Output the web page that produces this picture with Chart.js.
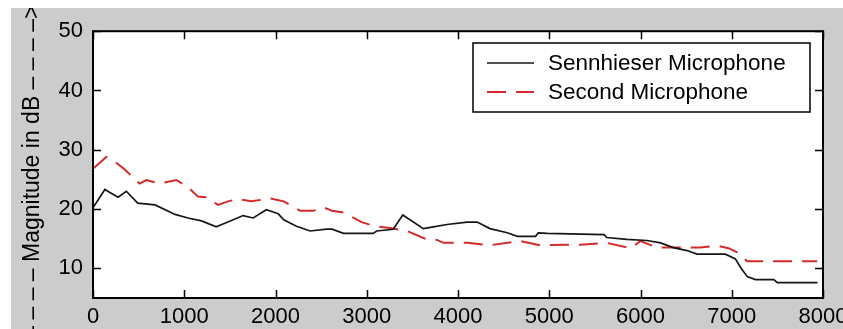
<!DOCTYPE html>
<html>
<head>
<meta charset="utf-8">
<script src="https://cdn.jsdelivr.net/npm/chart.js@4"></script>
<style>
	html, body { margin: 0; padding: 0; background: #fff; }
	#wrap { position: absolute; left: 11px; top: 8px; width: 832px; height: 321px; background: #cccccc; }
	canvas { display: block; }
</style>
</head>
<body>
<div id="wrap"><canvas id="magChart" width="832" height="321"></canvas></div>
<script>
const xTicks = [0, 1000, 2000, 3000, 4000, 5000, 6000, 7000, 8000];
const yTicks = [10, 20, 30, 40, 50];

const sennFreq = [0, 130, 195, 275, 365, 490, 680, 900, 1040, 1190, 1350, 1445, 1645, 1755, 1900, 2030, 2090, 2230, 2380, 2560, 2620, 2745, 3070, 3110, 3290, 3395, 3620, 3730, 3880, 4100, 4210, 4350, 4540, 4650, 4850, 4880, 4980, 5600, 5630, 5850, 6070, 6220, 6360, 6510, 6620, 6930, 7040, 7095, 7170, 7260, 7460, 7500, 7940];
const sennMag = [20.2, 23.3, 22.7, 22.0, 23.0, 21.0, 20.7, 19.1, 18.5, 18.0, 17.0, 17.6, 18.9, 18.5, 19.9, 19.2, 18.2, 17.1, 16.3, 16.6, 16.6, 15.9, 15.9, 16.3, 16.6, 19.0, 16.7, 17.0, 17.4, 17.8, 17.8, 16.7, 16.0, 15.4, 15.4, 16.0, 15.9, 15.7, 15.2, 14.9, 14.7, 14.3, 13.5, 13.0, 12.4, 12.4, 11.6, 10.2, 8.6, 8.1, 8.1, 7.6, 7.6];

const secondFreq = [0, 145, 240, 345, 510, 585, 730, 915, 1040, 1150, 1245, 1370, 1480, 1590, 1735, 1940, 2090, 2270, 2415, 2525, 2620, 2745, 2945, 3090, 3255, 3440, 3640, 3770, 3840, 4100, 4350, 4680, 4900, 5340, 5630, 5890, 6000, 6180, 6360, 6655, 6840, 6965, 7060, 7170, 7935];
const secondMag = [26.8, 28.8, 28.0, 26.7, 24.3, 24.9, 24.3, 24.9, 23.7, 22.1, 22.0, 20.7, 21.3, 21.7, 21.3, 21.8, 21.3, 19.7, 19.7, 20.3, 19.7, 19.4, 17.8, 17.1, 16.8, 16.3, 15.0, 14.8, 14.3, 14.3, 13.9, 14.6, 13.9, 14.0, 14.3, 13.4, 14.6, 13.5, 13.5, 13.5, 13.8, 13.4, 12.7, 11.2, 11.2];

const seriesNames = ["Sennhieser Microphone", "Second Microphone"];
const yTitle = "Magnitude in dB";

const FONT = "Liberation Sans, Arial, sans-serif";

const toPoints = (xs, ys) => xs.map((x, i) => ({ x: x, y: ys[i] }));

// white plot box, MATLAB style inward ticks on all four sides
const boxPlugin = {
	id: "box",
	beforeDatasetsDraw(chart) {
		const { ctx, chartArea: a } = chart;
		ctx.save();
		ctx.fillStyle = "#fff";
		ctx.fillRect(a.left, a.top, a.right - a.left, a.bottom - a.top);
		ctx.restore();
	},
	afterDatasetsDraw(chart) {
		const { ctx, chartArea: a, scales } = chart;
		const len = 8;
		ctx.save();
		ctx.strokeStyle = "#000";
		ctx.lineWidth = 2;
		ctx.strokeRect(a.left, a.top, a.right - a.left, a.bottom - a.top);
		ctx.lineWidth = 1.5;
		ctx.beginPath();
		scales.x.ticks.forEach(t => {
			const px = Math.round(scales.x.getPixelForValue(t.value)) + 0.5;
			ctx.moveTo(px, a.bottom); ctx.lineTo(px, a.bottom - len);
			ctx.moveTo(px, a.top); ctx.lineTo(px, a.top + len);
		});
		scales.y.ticks.forEach(t => {
			const py = Math.round(scales.y.getPixelForValue(t.value)) + 0.5;
			ctx.moveTo(a.left, py); ctx.lineTo(a.left + len, py);
			ctx.moveTo(a.right, py); ctx.lineTo(a.right - len, py);
		});
		ctx.stroke();
		ctx.restore();
	}
};

// boxed legend in the top right corner
const legendBox = {
	id: "legendBox",
	afterDraw(chart) {
		const { ctx } = chart;
		const x0 = 462, y0 = 35, w = 337, h = 69;
		ctx.save();
		ctx.fillStyle = "#fff";
		ctx.fillRect(x0, y0, w, h);
		ctx.strokeStyle = "#000";
		ctx.lineWidth = 1.5;
		ctx.strokeRect(x0, y0, w, h);
		ctx.font = "22.5px " + FONT;
		ctx.textBaseline = "alphabetic";
		chart.data.datasets.forEach((ds, i) => {
			const ly = 55 + i * 29;
			ctx.strokeStyle = ds.borderColor;
			ctx.lineWidth = ds.borderWidth;
			ctx.setLineDash(ds.borderDash || []);
			ctx.beginPath();
			ctx.moveTo(476, ly);
			ctx.lineTo(523, ly);
			ctx.stroke();
			ctx.setLineDash([]);
			ctx.fillStyle = "#000";
			ctx.fillText(ds.label, 537, ly + 7);
		});
		ctx.restore();
	}
};

// rotated axis title with the dashed arrow around it
const yTitlePlugin = {
	id: "yTitle",
	afterDraw(chart) {
		const { ctx } = chart;
		const pre = "– – – – – ";
		const post = " – – – –>";
		ctx.save();
		ctx.font = "23px " + FONT;
		ctx.fillStyle = "#000";
		ctx.textBaseline = "middle";
		ctx.textAlign = "left";
		ctx.translate(22, 254);
		ctx.rotate(-Math.PI / 2);
		ctx.fillText(pre + yTitle + post, -ctx.measureText(pre).width, 0);
		ctx.restore();
	}
};

new Chart(document.getElementById("magChart"), {
	type: "line",
	data: {
		datasets: [
			{
				label: seriesNames[0],
				data: toPoints(sennFreq, sennMag),
				borderColor: "#161616",
				borderWidth: 1.7,
				pointRadius: 0,
				tension: 0
			},
			{
				label: seriesNames[1],
				data: toPoints(secondFreq, secondMag),
				borderColor: "#d42a2a",
				borderWidth: 2,
				borderDash: [19, 10],
				pointRadius: 0,
				tension: 0
			}
		]
	},
	options: {
		responsive: false,
		animation: false,
		layout: { padding: { top: 20, right: 20, left: 0, bottom: 0 } },
		plugins: {
			legend: { display: false },
			tooltip: { enabled: false }
		},
		scales: {
			x: {
				type: "linear",
				min: xTicks[0],
				max: xTicks[xTicks.length - 1],
				afterBuildTicks: s => { s.ticks = xTicks.map(v => ({ value: v })); },
				afterFit: s => { s.height = 31; s.paddingLeft = 0; s.paddingRight = 0; },
				grid: { display: false, drawTicks: false },
				border: { display: false },
				ticks: {
					color: "#000", padding: 6, maxRotation: 0, autoSkip: false,
					font: { family: FONT, size: 22 },
					callback: v => String(v)
				}
			},
			y: {
				min: 5,
				max: 50,
				afterBuildTicks: s => { s.ticks = yTicks.map(v => ({ value: v })); },
				afterFit: s => { s.width = 82; },
				grid: { display: false, drawTicks: false },
				border: { display: false },
				ticks: {
					color: "#000", padding: 10,
					font: { family: FONT, size: 22 },
					callback: v => String(v)
				}
			}
		}
	},
	plugins: [boxPlugin, legendBox, yTitlePlugin]
});
</script>
</body>
</html>
